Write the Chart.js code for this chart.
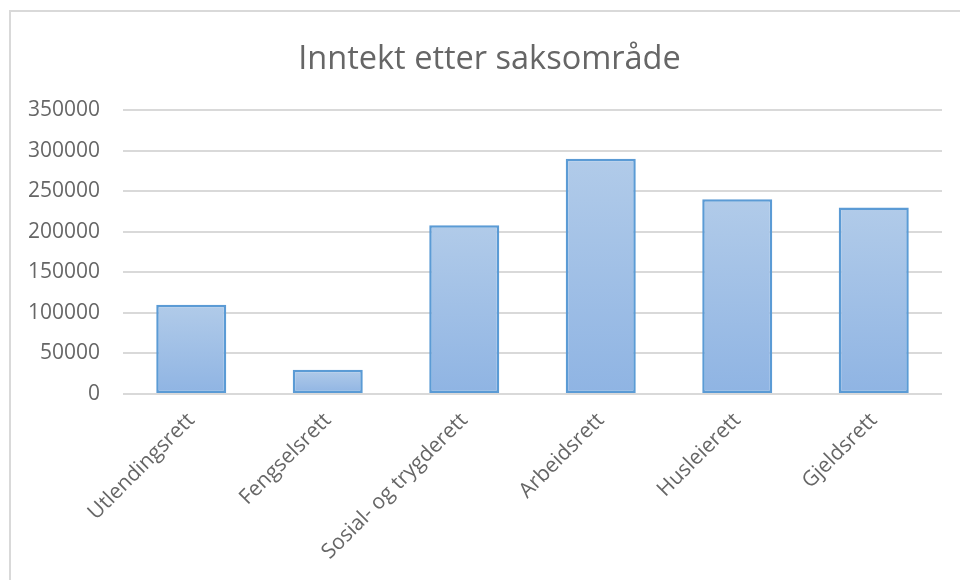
<!DOCTYPE html>
<html>
<head>
<meta charset="utf-8">
<script src="https://cdn.jsdelivr.net/npm/chart.js@4"></script>
<style>
  html, body { margin: 0; padding: 0; background: #fff; width: 960px; height: 580px; overflow: hidden; }
  #frame { position: absolute; left: 9px; top: 10px; width: 1000px; height: 700px; border: 2px solid #d9d9d9; box-sizing: border-box; }
  #wrap { position: absolute; left: 0; top: 0; width: 960px; height: 580px; }
</style>
</head>
<body>
<div id="frame"></div>
<div id="wrap"><canvas id="c" width="960" height="580"></canvas></div>
<script>
const chartTitle = "Inntekt etter saksområde";
const categories = ["Utlendingsrett", "Fengselsrett", "Sosial- og trygderett", "Arbeidsrett", "Husleierett", "Gjeldsrett"];
const income = [110000, 30000, 208000, 290000, 240000, 230000];
const yMin = 0;
const yMax = 350000;
const yStep = 50000;

const FONT = "'Open Sans', sans-serif";
const TEXT = "#666666";

function barGradient(ctx) {
  const chart = ctx.chart;
  const ys = chart.scales && chart.scales.y;
  if (!ys || !chart.chartArea || ctx.raw === undefined) return "#a0c0e6";
  const top = ys.getPixelForValue(ctx.raw);
  const base = ys.getPixelForValue(0);
  if (!isFinite(top) || !isFinite(base) || top === base) return "#a0c0e6";
  const g = chart.ctx.createLinearGradient(0, top, 0, base);
  g.addColorStop(0, "#b1cbe9");
  g.addColorStop(1, "#8fb4e3");
  return g;
}

// widen the y-axis label clip area to the canvas edge (labels overhang the narrowed axis box)
const widenYLabelArea = {
  id: "widenYLabelArea",
  afterLayout(chart) { if (chart.scales.y) chart.scales.y.left = 0; }
};

new Chart(document.getElementById("c"), {
  type: "bar",
  data: {
    labels: categories,
    datasets: [{
      label: chartTitle,
      data: income,
      backgroundColor: barGradient,
      borderColor: "#5b9bd5",
      borderWidth: 2.5,
      borderSkipped: false,
      barPercentage: 0.513,
      categoryPercentage: 1.0
    }]
  },
  plugins: [widenYLabelArea],
  options: {
    responsive: false,
    animation: false,
    devicePixelRatio: 1,
    layout: { padding: { left: 37, right: 18, top: 0, bottom: 1.5 } },
    plugins: {
      legend: { display: false },
      tooltip: { enabled: false },
      title: {
        display: true,
        text: chartTitle,
        color: TEXT,
        font: { family: FONT, size: 32.5, weight: "normal" },
        padding: { top: 40.5, bottom: 30.5 }
      }
    },
    scales: {
      x: {
        grid: { display: false, drawTicks: false },
        border: { display: false },
        afterFit: (scale) => { scale.paddingLeft = 0; scale.paddingRight = 0; },
        ticks: {
          color: TEXT,
          font: { family: FONT, size: 21 },
          minRotation: 45,
          maxRotation: 45,
          padding: 14,
          autoSkip: false
        }
      },
      y: {
        min: yMin,
        max: yMax,
        grid: { color: "#d9d9d9", lineWidth: 2, drawTicks: false },
        border: { display: false },
        afterFit: (scale) => { scale.width = 86; },
        ticks: {
          stepSize: yStep,
          color: TEXT,
          font: { family: FONT, size: 21 },
          padding: 23,
          callback: v => String(v)
        }
      }
    }
  }
});
</script>
</body>
</html>
